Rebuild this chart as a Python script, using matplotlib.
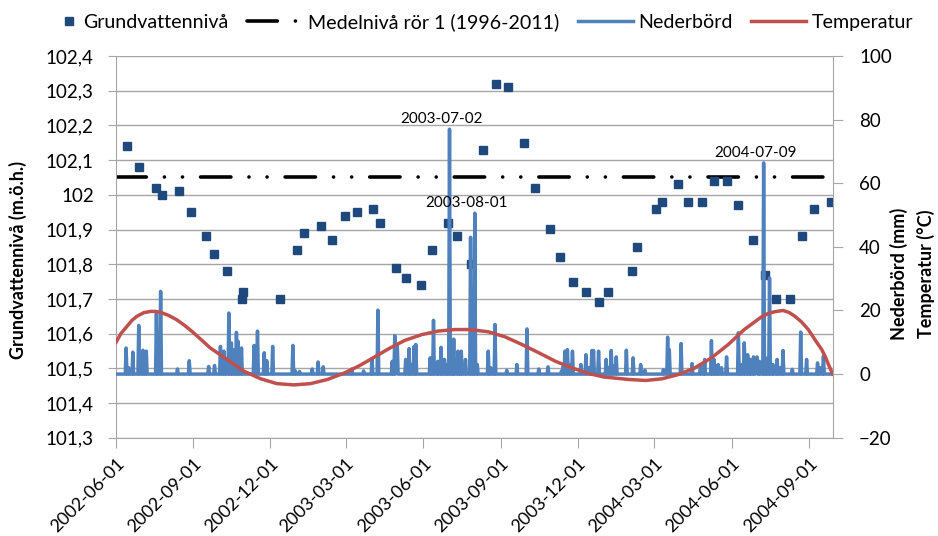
import matplotlib
matplotlib.use('Agg')
import matplotlib.pyplot as plt
import numpy as np
import pandas as pd
from matplotlib.legend_handler import HandlerLine2D
from matplotlib.ticker import FuncFormatter

plt.rcParams['font.family'] = ['Lato', 'DejaVu Sans']

# Grundvattennivå, rör 1 (m.ö.h.)
gw_dates = ['2002-06-14', '2002-06-28', '2002-07-18', '2002-07-26', '2002-08-15', '2002-08-29',
            '2002-09-16', '2002-09-25', '2002-10-11', '2002-10-29', '2002-10-30', '2002-12-13',
            '2003-01-02', '2003-01-10', '2003-01-31', '2003-02-13', '2003-02-28', '2003-03-14',
            '2003-04-02', '2003-04-11', '2003-04-30', '2003-05-11', '2003-05-29', '2003-06-11',
            '2003-06-30', '2003-07-11', '2003-07-27', '2003-08-11', '2003-08-26', '2003-09-10',
            '2003-09-28', '2003-10-12', '2003-10-29', '2003-11-10', '2003-11-26', '2003-12-11',
            '2003-12-27', '2004-01-06', '2004-02-04', '2004-02-10', '2004-03-03', '2004-03-10',
            '2004-03-29', '2004-04-10', '2004-04-27', '2004-05-11', '2004-05-26', '2004-06-08',
            '2004-06-26', '2004-07-11', '2004-07-24', '2004-08-09', '2004-08-24', '2004-09-07',
            '2004-09-27']
gw_level = [102.14, 102.08, 102.02, 102.00, 102.01, 101.95,
            101.88, 101.83, 101.78, 101.70, 101.72, 101.70,
            101.84, 101.89, 101.91, 101.87, 101.94, 101.95,
            101.96, 101.92, 101.79, 101.76, 101.74, 101.84,
            101.92, 101.88, 101.80, 102.13, 102.32, 102.31,
            102.15, 102.02, 101.90, 101.82, 101.75, 101.72,
            101.69, 101.72, 101.78, 101.85, 101.96, 101.98,
            102.03, 101.98, 101.98, 102.04, 102.04, 101.97,
            101.87, 101.77, 101.70, 101.70, 101.88, 101.96,
            101.98]

medel_level = 102.05

# Nederbörd (mm), dagar med regn; övriga dagar = 0
rain_dates = ['2002-06-13', '2002-06-21', '2002-06-28', '2002-07-03', '2002-07-07', '2002-07-19',
              '2002-07-24', '2002-08-13', '2002-08-27', '2002-09-19', '2002-09-26', '2002-10-03',
              '2002-10-07', '2002-10-13', '2002-10-16', '2002-10-19', '2002-10-22', '2002-10-24',
              '2002-10-28', '2002-11-12', '2002-11-16', '2002-11-24', '2002-11-27', '2002-12-04',
              '2002-12-28', '2002-12-31', '2003-01-05', '2003-01-20', '2003-01-27', '2003-02-02',
              '2003-03-08', '2003-03-22', '2003-04-01', '2003-04-08', '2003-04-25', '2003-04-28',
              '2003-05-01', '2003-05-11', '2003-05-15', '2003-05-21', '2003-05-23', '2003-06-09',
              '2003-06-13', '2003-06-18', '2003-06-22', '2003-06-26', '2003-07-02', '2003-07-07',
              '2003-07-12', '2003-07-16', '2003-07-21', '2003-07-27', '2003-08-01', '2003-08-17',
              '2003-08-25', '2003-09-08', '2003-09-20', '2003-10-02', '2003-10-16', '2003-10-27',
              '2003-11-12', '2003-11-16', '2003-11-19', '2003-11-25', '2003-12-05', '2003-12-11',
              '2003-12-18', '2003-12-20', '2003-12-26', '2004-01-04', '2004-01-10', '2004-01-16',
              '2004-01-28', '2004-02-05', '2004-02-14', '2004-02-19', '2004-03-12', '2004-03-17',
              '2004-03-19', '2004-04-02', '2004-04-15', '2004-04-25', '2004-04-30', '2004-05-08',
              '2004-05-11', '2004-05-16', '2004-05-26', '2004-06-09', '2004-06-16', '2004-06-20',
              '2004-06-23', '2004-06-27', '2004-07-01', '2004-07-09', '2004-07-16', '2004-07-25',
              '2004-08-01', '2004-08-12', '2004-08-22', '2004-08-29', '2004-09-11', '2004-09-18',
              # mindre regn
              '2002-06-16', '2002-07-05', '2002-07-21', '2002-10-09', '2002-10-26', '2002-11-14',
              '2003-04-30', '2003-05-18', '2003-06-11', '2003-06-29', '2003-07-05', '2003-07-14',
              '2003-07-29', '2003-08-04', '2003-08-20', '2003-11-14', '2003-11-22', '2003-12-15',
              '2004-01-07', '2004-01-13', '2004-04-28', '2004-05-13', '2004-05-20', '2004-06-12',
              '2004-06-30', '2004-07-04', '2004-07-12', '2004-07-20', '2004-07-29', '2004-09-14']
rain_mm = [8.2, 6.9, 15.3, 7.5, 7.2, 19.0,
           26.0, 1.6, 4.2, 2.4, 2.7, 8.7,
           7.2, 19.2, 9.8, 7.7, 13.1, 10.3,
           8.2, 9.0, 13.5, 6.7, 4.2, 8.7,
           9.0, 1.0, 0.8, 1.6, 3.8, 2.3,
           1.6, 1.0, 4.9, 20.1, 4.0, 12.1,
           9.3, 4.6, 8.0, 8.7, 9.3, 5.1,
           16.9, 4.0, 8.4, 4.6, 77.0, 11.0,
           7.2, 7.2, 4.6, 43.0, 50.6, 7.2,
           15.6, 1.2, 3.0, 14.2, 1.6, 2.3,
           1.0, 7.2, 7.7, 7.2, 3.0, 6.1,
           7.4, 7.4, 7.2, 4.6, 7.4, 5.4,
           7.5, 5.1, 3.0, 1.2, 1.4, 11.6,
           7.7, 9.6, 3.3, 3.0, 4.6, 10.5,
           4.6, 3.0, 5.4, 13.0, 9.8, 6.1,
           4.6, 5.4, 5.4, 66.4, 30.2, 4.6,
           7.4, 1.5, 13.2, 4.6, 3.5, 5.6,
           2.0, 3.0, 4.0, 3.5, 4.0, 2.5,
           3.0, 3.0, 2.5, 3.0, 4.0, 3.0,
           6.0, 3.0, 2.0, 2.5, 3.0, 2.0,
           2.0, 2.5, 2.0, 2.5, 2.0, 3.0,
           3.0, 4.0, 5.0, 3.0, 2.0, 2.0]

# Temperatur (°C), utjämnad kurva
temp_dates = ['2002-06-01', '2002-06-07', '2002-06-14', '2002-06-20', '2002-06-26', '2002-07-04',
              '2002-07-12', '2002-07-18', '2002-07-24', '2002-08-02', '2002-08-12', '2002-08-22',
              '2002-09-01', '2002-09-21', '2002-10-11', '2002-10-31', '2002-11-20', '2002-12-09',
              '2002-12-29', '2003-01-18', '2003-02-07', '2003-02-26', '2003-03-16', '2003-04-01',
              '2003-04-21', '2003-05-10', '2003-05-30', '2003-06-18', '2003-07-08', '2003-07-26',
              '2003-08-17', '2003-09-06', '2003-09-26', '2003-10-16', '2003-11-05', '2003-11-25',
              '2003-12-14', '2004-01-01', '2004-01-31', '2004-02-20', '2004-03-10', '2004-03-29',
              '2004-04-18', '2004-05-08', '2004-05-28', '2004-06-16', '2004-07-06', '2004-07-14',
              '2004-07-22', '2004-08-01', '2004-08-08', '2004-08-15', '2004-08-23', '2004-08-31',
              '2004-09-05', '2004-09-10', '2004-09-16', '2004-09-20', '2004-09-24', '2004-09-27',
              '2004-09-29']
temp_c = [10.0, 12.8, 15.0, 16.9, 18.2, 19.3,
          19.7, 19.7, 19.4, 18.5, 17.1, 15.2,
          13.0, 8.2, 4.6, 0.9, -1.5, -3.0,
          -3.4, -3.0, -1.7, 0.2, 2.5, 4.9,
          8.0, 10.6, 12.4, 13.5, 14.0, 14.0,
          13.3, 11.7, 9.3, 6.7, 4.0, 1.9,
          0.2, -0.9, -1.7, -2.0, -1.5, -0.2,
          1.9, 5.1, 9.3, 14.0, 17.9, 19.0,
          19.6, 20.0, 19.4, 18.2, 16.4, 14.0,
          12.0, 10.0, 7.7, 5.6, 3.0, 1.2,
          0.0]

tick_dates = ['2002-06-01', '2002-09-01', '2002-12-01', '2003-03-01', '2003-06-01',
              '2003-09-01', '2003-12-01', '2004-03-01', '2004-06-01', '2004-09-01']
peak_dates = ['2003-07-02', '2003-08-01', '2004-07-09']

start = pd.Timestamp('2002-06-01')
end = pd.Timestamp('2004-09-29')

days = pd.date_range(start, end, freq='D')
rain = pd.Series(rain_mm, index=pd.to_datetime(rain_dates)).reindex(days, fill_value=0.0)

GRID = '#A6A6A6'


class MarkerAtRight(HandlerLine2D):
    # legendsymbolen placeras nära texten
    def get_xdata(self, legend, xdescent, ydescent, width, height, fontsize):
        x = width - 0.45 * fontsize - xdescent
        return np.array([x, x]), np.array([x])


def fmt_left(v, pos):
    s = f"{v:.1f}"
    if s.endswith('.0'):
        s = s[:-2]
    return s.replace('.', ',')


fig = plt.figure(figsize=(9.38, 5.36), dpi=100)
ax = fig.add_axes([116 / 938, 1 - 437.7 / 536, (832.7 - 116) / 938, (437.7 - 56) / 536])
ax2 = ax.twinx()

dash = (0, (8.4, 5.0, 0.01, 5.0, 0.01, 5.0))
medel_line = ax.axhline(medel_level, color='black', lw=2.6, linestyle=dash,
                        dash_capstyle='round', zorder=2)
gw_line, = ax.plot(pd.to_datetime(gw_dates), gw_level, 's', color='#1F497D', ms=6.2,
                   mec='#1F497D', zorder=3)

rain_line, = ax2.plot(rain.index, rain.values, color='#4F81BD', lw=2.5, solid_joinstyle='round')
temp_line, = ax2.plot(pd.to_datetime(temp_dates), temp_c, color='#C0504D', lw=2.5,
                      solid_joinstyle='round')

for d in peak_dates:
    ts = pd.Timestamp(d)
    ax2.annotate(d, xy=(ts, rain[ts]), xytext=(-6, 2), textcoords='offset points',
                 ha='center', va='bottom', fontsize=11)

ax.set_xlim(start, end)
ax.set_ylim(101.3, 102.4)
ax.set_yticks(np.arange(101.3, 102.41, 0.1))
ax.yaxis.set_major_formatter(FuncFormatter(fmt_left))
ax2.set_ylim(-20, 100)
ax2.set_yticks(range(-20, 101, 20))

ax.set_xticks(pd.to_datetime(tick_dates))
ax.set_xticklabels(tick_dates, rotation=45, ha='right', rotation_mode='anchor')

ax.grid(axis='y', color=GRID, lw=1.0)
ax.set_axisbelow(True)
for a in (ax, ax2):
    a.spines['top'].set_visible(False)
ax.spines['right'].set_visible(False)
ax2.spines['left'].set_visible(False)
ax2.spines['bottom'].set_visible(False)
ax.spines['left'].set_color(GRID)
ax.spines['bottom'].set_color(GRID)
ax2.spines['right'].set_color(GRID)

ax.tick_params(axis='y', length=6, color=GRID, labelsize=13.5, pad=10)
ax.tick_params(axis='x', length=7, color=GRID, labelsize=13, pad=6)
ax2.tick_params(axis='y', length=7, color=GRID, labelsize=13.5, pad=12)

fig.text(18 / 938, 1 - 260 / 536, 'Grundvattennivå (m.ö.h.)', rotation=90,
         fontweight='bold', fontsize=13, ha='center', va='center')
fig.text(899 / 938, 1 - 274 / 536, 'Nederbörd (mm)', rotation=90,
         fontweight='bold', fontsize=13, ha='center', va='center')
fig.text(926 / 938, 1 - 274 / 536, 'Temperatur (°C)', rotation=90,
         fontweight='bold', fontsize=13, ha='center', va='center')

handles = [gw_line, medel_line, rain_line, temp_line]
labels = ['Grundvattennivå', 'Medelnivå rör 1 (1996-2011)', 'Nederbörd', 'Temperatur']
fig.legend(handles, labels, loc='center', bbox_to_anchor=(0.499, 1 - 22 / 536), ncol=4,
           frameon=False, fontsize=14.1, handlelength=2.8, handletextpad=0.3,
           columnspacing=0.95, borderpad=0, handler_map={gw_line: MarkerAtRight(numpoints=1)})

fig.savefig('out.png', dpi=100)
